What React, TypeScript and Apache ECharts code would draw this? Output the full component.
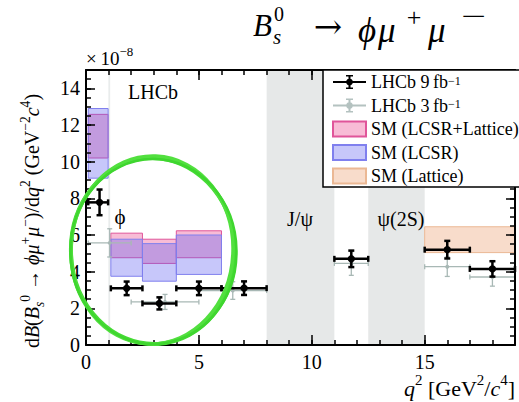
import React, { useEffect, useRef } from "react";
import * as echarts from "echarts";

// ---- data ----
// LHCb 9 fb^-1
const lhcb9Centers = [0.6, 1.8, 3.25, 5.0, 7.0, 11.75, 16.0, 18.0];
const lhcb9Values = [7.78, 3.09, 2.27, 3.09, 3.1, 4.7, 5.2, 4.15];
const lhcb9Low = [0.1, 1.1, 2.5, 4.0, 6.0, 11.0, 15.0, 17.0];
const lhcb9High = [0.98, 2.5, 4.0, 6.0, 8.0, 12.5, 17.0, 19.0];
const lhcb9Err = [0.7, 0.37, 0.33, 0.37, 0.37, 0.45, 0.48, 0.42];

// LHCb 3 fb^-1
const lhcb3Centers = [1.05, 3.5, 6.5, 11.75, 16.0, 18.0];
const lhcb3Values = [5.57, 2.35, 2.97, 4.45, 4.27, 3.71];
const lhcb3Low = [0.1, 2.0, 5.0, 11.0, 15.0, 17.0];
const lhcb3High = [2.0, 5.0, 8.0, 12.5, 17.0, 19.0];
const lhcb3Err = [0.77, 0.41, 0.48, 0.65, 0.53, 0.5];

// SM predictions: bins and [low, high] bands
const smBinLow = [0.1, 1.1, 2.5, 4.0];
const smBinHigh = [0.98, 2.5, 4.0, 6.0];
const smLcsrLatLow = [10.2, 4.76, 4.45, 4.76];
const smLcsrLatHigh = [12.58, 6.1, 5.77, 6.23];
const smLcsrLow = [9.1, 3.75, 3.48, 3.85];
const smLcsrHigh = [12.9, 5.77, 5.53, 6.0];
const smLatticeBin = [15.0, 19.0];
const smLatticeBand = [5.04, 6.45];

// vetoed resonance regions
const vetoLow = [8.0, 12.5];
const vetoHigh = [11.0, 15.0];
const phiVeto = [0.99, 1.07];

const xMin = 0, xMax = 19, yMin = 0, yMax = 15;

const SERIF = "Liberation Serif";

function boxData(lo: number[], hi: number[], ylo: number[], yhi: number[]) {
  return lo.map((l, i) => [l, hi[i], ylo[i], yhi[i]]);
}

function boxRender(params: any, api: any) {
  const p0 = api.coord([api.value(0), api.value(3)]);
  const p1 = api.coord([api.value(1), api.value(2)]);
  const style = api.style();
  return {
    type: "rect",
    shape: { x: p0[0], y: p0[1], width: p1[0] - p0[0], height: p1[1] - p0[1] },
    style: { fill: style.fill, stroke: style.stroke, lineWidth: style.lineWidth },
  };
}

function makeErrRender(color: string, lw: number, cap: number, r: number) {
  return (params: any, api: any) => {
    const xc = api.value(0), y = api.value(1), x0 = api.value(2), x1 = api.value(3), e = api.value(4);
    const c = api.coord([xc, y]);
    const l = api.coord([x0, y]);
    const rr = api.coord([x1, y]);
    const t = api.coord([xc, y + e]);
    const b = api.coord([xc, y - e]);
    const st = { stroke: color, lineWidth: lw };
    return {
      type: "group",
      children: [
        { type: "line", shape: { x1: l[0], y1: l[1], x2: rr[0], y2: rr[1] }, style: st },
        { type: "line", shape: { x1: l[0], y1: l[1] - cap / 2, x2: l[0], y2: l[1] + cap / 2 }, style: st },
        { type: "line", shape: { x1: rr[0], y1: rr[1] - cap / 2, x2: rr[0], y2: rr[1] + cap / 2 }, style: st },
        { type: "line", shape: { x1: t[0], y1: t[1], x2: b[0], y2: b[1] }, style: st },
        { type: "line", shape: { x1: t[0] - cap / 2, y1: t[1], x2: t[0] + cap / 2, y2: t[1] }, style: st },
        { type: "line", shape: { x1: b[0] - cap / 2, y1: b[1], x2: b[0] + cap / 2, y2: b[1] }, style: st },
        { type: "circle", shape: { cx: c[0], cy: c[1], r }, style: { fill: color } },
      ],
    };
  };
}

const errIcon =
  "path://M0,7 H33 V9 H0 Z M15.5,1 H17.5 V15 H15.5 Z M13,1 H20 V2.5 H13 Z M13,13.5 H20 V15 H13 Z M16.5,4.6 A3.4,3.4 0 1,1 16.49,4.6 Z";

export default function App() {
  const ref = useRef<HTMLDivElement>(null);
  useEffect(() => {
    if (!ref.current) return;
    const chart = echarts.init(ref.current, null, { renderer: "svg" });

    const mkX = (pos: string, interval: number, len: number, labels: boolean, line: boolean) => ({
      type: "value",
      position: pos,
      min: xMin,
      max: xMax,
      interval,
      z: 10,
      splitLine: { show: false },
      axisLine: { show: line, onZero: false, lineStyle: { color: "#000", width: 2 } },
      axisTick: { show: true, inside: true, length: len, lineStyle: { color: "#000", width: 1.5 } },
      axisLabel: {
        show: labels,
        margin: 7,
        color: "#000",
        fontFamily: SERIF,
        fontSize: 20,
        formatter: (v: number) => (v % 5 === 0 ? String(v) : ""),
      },
    });
    const mkY = (pos: string, interval: number, len: number, labels: boolean, line: boolean) => ({
      type: "value",
      position: pos,
      min: yMin,
      max: yMax,
      interval,
      z: 10,
      splitLine: { show: false },
      axisLine: { show: line, onZero: false, lineStyle: { color: "#000", width: 2 } },
      axisTick: { show: true, inside: true, length: len, lineStyle: { color: "#000", width: 1.5 } },
      axisLabel: {
        show: labels,
        margin: 6,
        color: "#000",
        fontFamily: SERIF,
        fontSize: 20,
        formatter: (v: number) => (v % 2 === 0 ? String(v) : ""),
      },
    });

    const richMath = (size: number) => ({
      t: { fontFamily: SERIF, fontSize: size, color: "#000", lineHeight: size * 1.4 },
      i: { fontFamily: SERIF, fontSize: size, fontStyle: "italic", color: "#000", lineHeight: size * 1.4 },
      sup: { fontFamily: SERIF, fontSize: size * 0.68, color: "#000", verticalAlign: "top", lineHeight: size * 1.4 },
      sub: { fontFamily: SERIF, fontSize: size * 0.68, fontStyle: "italic", color: "#000", verticalAlign: "bottom", lineHeight: size * 1.4 },
    });

    const txt = (x: number, y: number, text: string, size: number, italic = false, align = "left", extra: any = {}, family = SERIF) => ({
      type: "text",
      x,
      y,
      z: 50,
      ...extra,
      style: {
        text,
        fontFamily: family,
        fontSize: size,
        fontStyle: italic ? "italic" : "normal",
        fill: "#000",
        align,
        verticalAlign: "middle",
      },
    });

    const option: any = {
      animation: false,
      backgroundColor: "#fff",
      grid: { left: 86, right: 4, top: 70, bottom: 57, containLabel: false },
      xAxis: [
        mkX("bottom", 5, 10, true, true),
        mkX("bottom", 1, 5, false, false),
        mkX("top", 5, 10, false, true),
        mkX("top", 1, 5, false, false),
      ],
      yAxis: [
        mkY("left", 2, 9, true, true),
        mkY("left", 0.5, 5, false, false),
        mkY("right", 2, 9, false, true),
        mkY("right", 0.5, 5, false, false),
      ],
      legend: {
        orient: "vertical",
        left: 323,
        top: 70,
        z: 20,
        selectedMode: false,
        padding: [3, 3, 2, 9],
        itemGap: 5.5,
        itemWidth: 33,
        itemHeight: 15,
        backgroundColor: "#fff",
        borderColor: "#000",
        borderWidth: 1.5,
        borderRadius: 0,
        textStyle: {
          fontFamily: SERIF,
          fontSize: 18,
          color: "#000",
          lineHeight: 15,
          rich: {
            n: { fontFamily: SERIF, fontSize: 18, color: "#000", lineHeight: 15 },
            s: { fontFamily: SERIF, fontSize: 12, color: "#000", verticalAlign: "top", lineHeight: 15 },
          },
        },
        formatter: (name: string) => {
          if (name === "LHCb 9fb") return "{n|LHCb 9\u2009fb}{s|\u22121}";
          if (name === "LHCb 3fb") return "{n|LHCb 3\u2009fb}{s|\u22121}";
          return name;
        },
        data: [
          { name: "LHCb 9fb", icon: errIcon, itemStyle: { color: "#000", borderWidth: 0 } },
          { name: "LHCb 3fb", icon: errIcon, itemStyle: { color: "#b4c2c0", borderWidth: 0 } },
          { name: "SM (LCSR+Lattice)", icon: "rect" },
          { name: "SM (LCSR)", icon: "rect" },
          { name: "SM (Lattice)", icon: "rect" },
        ],
      },
      series: [
        {
          name: "veto",
          type: "custom",
          renderItem: boxRender,
          itemStyle: { color: "#e6e8e8", borderWidth: 0 },
          encode: { x: [0, 1], y: [2, 3] },
          data: vetoLow.map((l, i) => [l, vetoHigh[i], yMin, yMax]),
          silent: true,
        },
        {
          name: "phiVeto",
          type: "custom",
          renderItem: boxRender,
          itemStyle: { color: "#e9ecec", borderWidth: 0 },
          encode: { x: [0, 1], y: [2, 3] },
          data: [[phiVeto[0], phiVeto[1], yMin, yMax]],
          silent: true,
        },
        {
          name: "SM (LCSR+Lattice)",
          type: "custom",
          renderItem: boxRender,
          itemStyle: { color: "rgba(235,70,140,0.36)", borderColor: "#e0559a", borderWidth: 1 },
          encode: { x: [0, 1], y: [2, 3] },
          data: boxData(smBinLow, smBinHigh, smLcsrLatLow, smLcsrLatHigh),
        },
        {
          name: "SM (LCSR)",
          type: "custom",
          renderItem: boxRender,
          itemStyle: { color: "rgba(95,95,240,0.35)", borderColor: "#8080ee", borderWidth: 1 },
          encode: { x: [0, 1], y: [2, 3] },
          data: boxData(smBinLow, smBinHigh, smLcsrLow, smLcsrHigh),
        },
        {
          name: "SM (Lattice)",
          type: "custom",
          renderItem: boxRender,
          itemStyle: { color: "#f8dccb", borderColor: "#ebb894", borderWidth: 1 },
          encode: { x: [0, 1], y: [2, 3] },
          data: [[smLatticeBin[0], smLatticeBin[1], smLatticeBand[0], smLatticeBand[1]]],
        },
        {
          name: "LHCb 3fb",
          type: "custom",
          renderItem: makeErrRender("#a8b8b5", 1.3, 5, 2),
          itemStyle: { color: "#b4c2c0" },
          encode: { x: 0, y: 1 },
          data: lhcb3Centers.map((c, i) => [c, lhcb3Values[i], lhcb3Low[i], lhcb3High[i], lhcb3Err[i]]),
        },
        {
          name: "LHCb 9fb",
          type: "custom",
          renderItem: makeErrRender("#000", 2.5, 6, 3.7),
          itemStyle: { color: "#000" },
          encode: { x: 0, y: 1 },
          data: lhcb9Centers.map((c, i) => [c, lhcb9Values[i], lhcb9Low[i], lhcb9High[i], lhcb9Err[i]]),
        },
      ],
      graphic: [
        // title  B_s^0 -> phi mu+ mu-
        txt(253, 25, "B", 31, true),
        txt(274, 14, "0", 20),
        txt(273, 37, "s", 21, true),
        txt(328, 26, "\u2192", 34, false, "center", {}, "DejaVu Serif"),
        txt(358, 30, "\u03d5", 35, true),
        txt(378, 30, "\u03bc", 35, true),
        txt(414, 17, "+", 26, false, "center"),
        txt(428, 30, "\u03bc", 35, true),
        txt(474, 16, "\u2212", 26, false, "center", { scaleX: 1.7, originX: 0, originY: 0 }),
        {
          type: "text",
          x: 32,
          y: 221,
          rotation: Math.PI / 2,
          z: 50,
          style: {
            text:
              "{t|d}{i|B}{t|(}{i|B}{sub|s}{sup|0}{t| \u2192 }{i|\u03d5\u03bc}{sup|+}{i|\u03bc}{sup|\u2212}{t|)/d}{i|q}{sup|2}{t| (GeV}{sup|\u22122}{i|c}{sup|4}{t|)}",
            align: "center",
            verticalAlign: "middle",
            rich: richMath(20),
          },
        },
        {
          type: "text",
          x: 515,
          y: 388,
          z: 50,
          style: {
            text: "{i|q}{sup|2}{t| [GeV}{sup|2}{t|/}{i|c}{sup|4}{t|]}",
            align: "right",
            verticalAlign: "middle",
            rich: richMath(22),
          },
        },
        {
          type: "text",
          x: 86,
          y: 58,
          z: 50,
          style: {
            text: "{t|\u00d7\u200910}{sup|\u22128}",
            align: "left",
            verticalAlign: "middle",
            rich: richMath(19),
          },
        },
        txt(128, 92, "LHCb", 20),
        txt(120, 217, "\u03d5", 21, false, "center"),
        txt(300, 219, "J/\u03c8", 20, false, "center"),
        txt(401, 219, "\u03c8(2S)", 20, false, "center"),
        {
          type: "ellipse", z: 100, x: 153, y: 251, rotation: 0.05,
          shape: { cx: 0, cy: 0, rx: 82, ry: 93 },
          style: { fill: "none", stroke: "#45dc34", lineWidth: 4 },
        },
        {
          type: "ellipse", z: 100, x: 152, y: 250, rotation: -0.04,
          shape: { cx: 0, cy: 0, rx: 81, ry: 94 },
          style: { fill: "none", stroke: "#52e03f", lineWidth: 3.5 },
        },
        {
          type: "ellipse", z: 100, x: 153.5, y: 251.5, rotation: 0.01,
          shape: { cx: 0, cy: 0, rx: 83, ry: 92.5 },
          style: { fill: "none", stroke: "#3fd62f", lineWidth: 2.5 },
        },
      ],
    };
    chart.setOption(option);
    return () => chart.dispose();
  }, []);
  return (
    <div
      ref={ref}
      style={{ position: "fixed", left: 0, top: 0, width: 519, height: 402, background: "#fff" }}
    />
  );
}
